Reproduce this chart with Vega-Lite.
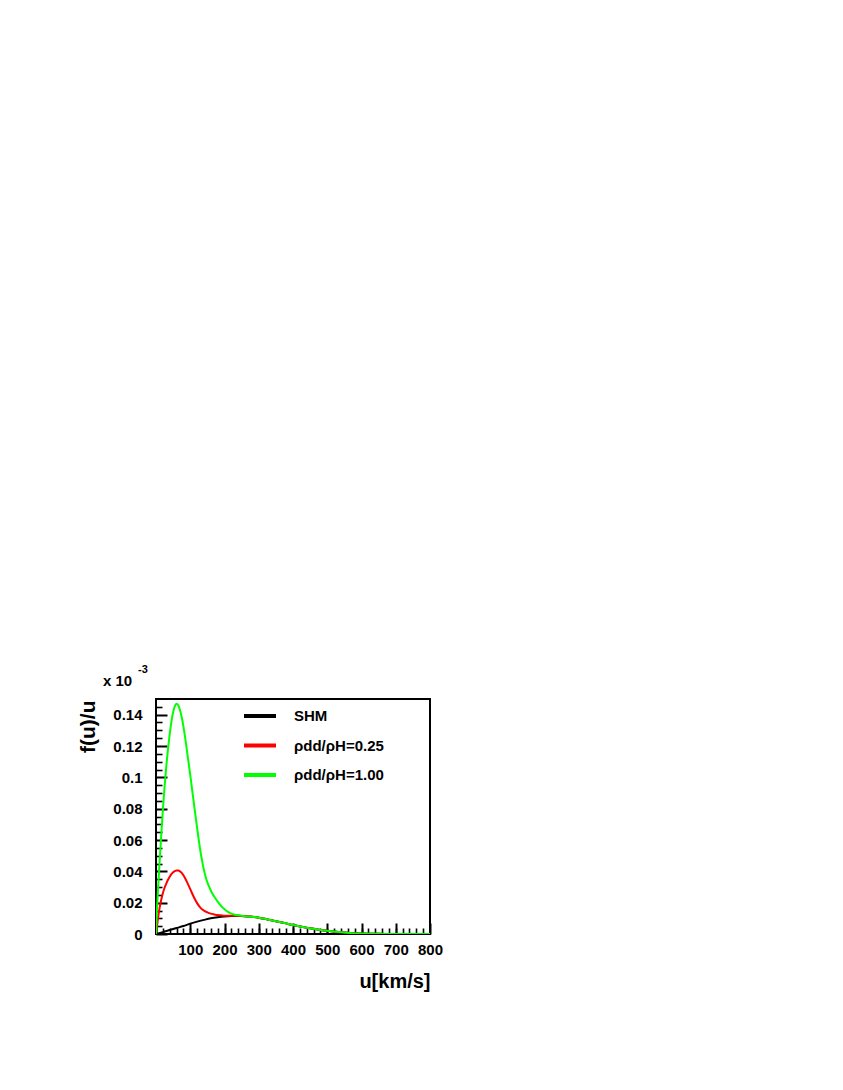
{
  "$schema": "https://vega.github.io/schema/vega-lite/v6.json",
  "autosize": {"type": "none"},
  "padding": {"left": 156, "top": 699, "right": 413, "bottom": 156},
  "width": 274,
  "height": 235,
  "background": "white",
  "config": {
    "font": "Liberation Sans",
    "view": {"stroke": "#000000", "strokeWidth": 2},
    "axis": {"grid": false, "domain": false, "labelFont": "Liberation Sans", "labelFontWeight": "bold", "labelFontSize": 15, "labelColor": "#000000", "tickColor": "#000000", "titleColor": "#000000", "titleFont": "Liberation Sans", "titleFontWeight": "bold"},
    "legend": {"orient": "none", "legendX": 86, "legendY": -1, "padding": 0, "title": null, "symbolType": "stroke", "symbolSize": 1024, "symbolStrokeWidth": 4, "labelFont": "Liberation Sans", "labelFontWeight": "bold", "labelFontSize": 15, "labelColor": "#000000", "labelOffset": 16, "rowPadding": 3.5}
  },
  "data": {"values": [
    {"series": "SHM", "u": 0, "v": 0},
    {"series": "SHM", "u": 20, "v": 0.0012},
    {"series": "SHM", "u": 40, "v": 0.0025},
    {"series": "SHM", "u": 60, "v": 0.0038},
    {"series": "SHM", "u": 80, "v": 0.0051},
    {"series": "SHM", "u": 100, "v": 0.0066},
    {"series": "SHM", "u": 120, "v": 0.0079},
    {"series": "SHM", "u": 140, "v": 0.009},
    {"series": "SHM", "u": 160, "v": 0.01},
    {"series": "SHM", "u": 180, "v": 0.0107},
    {"series": "SHM", "u": 200, "v": 0.0112},
    {"series": "SHM", "u": 220, "v": 0.0115},
    {"series": "SHM", "u": 240, "v": 0.0116},
    {"series": "SHM", "u": 260, "v": 0.0114},
    {"series": "SHM", "u": 280, "v": 0.011},
    {"series": "SHM", "u": 300, "v": 0.0104},
    {"series": "SHM", "u": 325, "v": 0.0093},
    {"series": "SHM", "u": 350, "v": 0.0082},
    {"series": "SHM", "u": 375, "v": 0.007},
    {"series": "SHM", "u": 400, "v": 0.0057},
    {"series": "SHM", "u": 425, "v": 0.0046},
    {"series": "SHM", "u": 450, "v": 0.0036},
    {"series": "SHM", "u": 475, "v": 0.0027},
    {"series": "SHM", "u": 500, "v": 0.002},
    {"series": "SHM", "u": 525, "v": 0.0014},
    {"series": "SHM", "u": 550, "v": 0.0009},
    {"series": "SHM", "u": 575, "v": 0.0005},
    {"series": "SHM", "u": 600, "v": 0.0003},
    {"series": "SHM", "u": 650, "v": 0.0001},
    {"series": "SHM", "u": 700, "v": 0},
    {"series": "SHM", "u": 750, "v": 0},
    {"series": "SHM", "u": 800, "v": 0},
    {"series": "ρdd/ρH=0.25", "u": 0, "v": 0},
    {"series": "ρdd/ρH=0.25", "u": 5, "v": 0.0085},
    {"series": "ρdd/ρH=0.25", "u": 10, "v": 0.016},
    {"series": "ρdd/ρH=0.25", "u": 15, "v": 0.0215},
    {"series": "ρdd/ρH=0.25", "u": 20, "v": 0.026},
    {"series": "ρdd/ρH=0.25", "u": 25, "v": 0.0295},
    {"series": "ρdd/ρH=0.25", "u": 30, "v": 0.0322},
    {"series": "ρdd/ρH=0.25", "u": 35, "v": 0.0346},
    {"series": "ρdd/ρH=0.25", "u": 40, "v": 0.0366},
    {"series": "ρdd/ρH=0.25", "u": 45, "v": 0.0382},
    {"series": "ρdd/ρH=0.25", "u": 50, "v": 0.0394},
    {"series": "ρdd/ρH=0.25", "u": 55, "v": 0.0402},
    {"series": "ρdd/ρH=0.25", "u": 60, "v": 0.0405},
    {"series": "ρdd/ρH=0.25", "u": 65, "v": 0.0405},
    {"series": "ρdd/ρH=0.25", "u": 70, "v": 0.04},
    {"series": "ρdd/ρH=0.25", "u": 75, "v": 0.039},
    {"series": "ρdd/ρH=0.25", "u": 80, "v": 0.0375},
    {"series": "ρdd/ρH=0.25", "u": 85, "v": 0.0356},
    {"series": "ρdd/ρH=0.25", "u": 90, "v": 0.0334},
    {"series": "ρdd/ρH=0.25", "u": 95, "v": 0.031},
    {"series": "ρdd/ρH=0.25", "u": 100, "v": 0.0286},
    {"series": "ρdd/ρH=0.25", "u": 110, "v": 0.0238},
    {"series": "ρdd/ρH=0.25", "u": 120, "v": 0.0197},
    {"series": "ρdd/ρH=0.25", "u": 130, "v": 0.0167},
    {"series": "ρdd/ρH=0.25", "u": 140, "v": 0.0149},
    {"series": "ρdd/ρH=0.25", "u": 150, "v": 0.0138},
    {"series": "ρdd/ρH=0.25", "u": 160, "v": 0.013},
    {"series": "ρdd/ρH=0.25", "u": 170, "v": 0.0125},
    {"series": "ρdd/ρH=0.25", "u": 180, "v": 0.0121},
    {"series": "ρdd/ρH=0.25", "u": 190, "v": 0.0119},
    {"series": "ρdd/ρH=0.25", "u": 200, "v": 0.0117},
    {"series": "ρdd/ρH=0.25", "u": 220, "v": 0.0116},
    {"series": "ρdd/ρH=0.25", "u": 240, "v": 0.0116},
    {"series": "ρdd/ρH=0.25", "u": 260, "v": 0.0114},
    {"series": "ρdd/ρH=0.25", "u": 280, "v": 0.011},
    {"series": "ρdd/ρH=0.25", "u": 300, "v": 0.0104},
    {"series": "ρdd/ρH=0.25", "u": 325, "v": 0.0093},
    {"series": "ρdd/ρH=0.25", "u": 350, "v": 0.0082},
    {"series": "ρdd/ρH=0.25", "u": 375, "v": 0.007},
    {"series": "ρdd/ρH=0.25", "u": 400, "v": 0.0057},
    {"series": "ρdd/ρH=0.25", "u": 425, "v": 0.0046},
    {"series": "ρdd/ρH=0.25", "u": 450, "v": 0.0036},
    {"series": "ρdd/ρH=0.25", "u": 475, "v": 0.0027},
    {"series": "ρdd/ρH=0.25", "u": 500, "v": 0.002},
    {"series": "ρdd/ρH=0.25", "u": 525, "v": 0.0014},
    {"series": "ρdd/ρH=0.25", "u": 550, "v": 0.0009},
    {"series": "ρdd/ρH=0.25", "u": 575, "v": 0.0005},
    {"series": "ρdd/ρH=0.25", "u": 600, "v": 0.0003},
    {"series": "ρdd/ρH=0.25", "u": 650, "v": 0.0001},
    {"series": "ρdd/ρH=0.25", "u": 700, "v": 0},
    {"series": "ρdd/ρH=0.25", "u": 750, "v": 0},
    {"series": "ρdd/ρH=0.25", "u": 800, "v": 0},
    {"series": "ρdd/ρH=1.00", "u": 0, "v": 0},
    {"series": "ρdd/ρH=1.00", "u": 2, "v": 0.012},
    {"series": "ρdd/ρH=1.00", "u": 5, "v": 0.025},
    {"series": "ρdd/ρH=1.00", "u": 10, "v": 0.044},
    {"series": "ρdd/ρH=1.00", "u": 15, "v": 0.062},
    {"series": "ρdd/ρH=1.00", "u": 20, "v": 0.079},
    {"series": "ρdd/ρH=1.00", "u": 25, "v": 0.094},
    {"series": "ρdd/ρH=1.00", "u": 30, "v": 0.107},
    {"series": "ρdd/ρH=1.00", "u": 35, "v": 0.118},
    {"series": "ρdd/ρH=1.00", "u": 40, "v": 0.1275},
    {"series": "ρdd/ρH=1.00", "u": 45, "v": 0.1355},
    {"series": "ρdd/ρH=1.00", "u": 50, "v": 0.1415},
    {"series": "ρdd/ρH=1.00", "u": 55, "v": 0.1455},
    {"series": "ρdd/ρH=1.00", "u": 60, "v": 0.147},
    {"series": "ρdd/ρH=1.00", "u": 65, "v": 0.146},
    {"series": "ρdd/ρH=1.00", "u": 70, "v": 0.143},
    {"series": "ρdd/ρH=1.00", "u": 75, "v": 0.1385},
    {"series": "ρdd/ρH=1.00", "u": 80, "v": 0.1325},
    {"series": "ρdd/ρH=1.00", "u": 85, "v": 0.1255},
    {"series": "ρdd/ρH=1.00", "u": 90, "v": 0.1175},
    {"series": "ρdd/ρH=1.00", "u": 95, "v": 0.1095},
    {"series": "ρdd/ρH=1.00", "u": 100, "v": 0.1015},
    {"series": "ρdd/ρH=1.00", "u": 105, "v": 0.093},
    {"series": "ρdd/ρH=1.00", "u": 110, "v": 0.0845},
    {"series": "ρdd/ρH=1.00", "u": 115, "v": 0.076},
    {"series": "ρdd/ρH=1.00", "u": 120, "v": 0.0677},
    {"series": "ρdd/ρH=1.00", "u": 125, "v": 0.0598},
    {"series": "ρdd/ρH=1.00", "u": 130, "v": 0.0525},
    {"series": "ρdd/ρH=1.00", "u": 135, "v": 0.0462},
    {"series": "ρdd/ρH=1.00", "u": 140, "v": 0.0408},
    {"series": "ρdd/ρH=1.00", "u": 145, "v": 0.0364},
    {"series": "ρdd/ρH=1.00", "u": 150, "v": 0.033},
    {"series": "ρdd/ρH=1.00", "u": 155, "v": 0.0302},
    {"series": "ρdd/ρH=1.00", "u": 160, "v": 0.0278},
    {"series": "ρdd/ρH=1.00", "u": 165, "v": 0.0257},
    {"series": "ρdd/ρH=1.00", "u": 170, "v": 0.0239},
    {"series": "ρdd/ρH=1.00", "u": 180, "v": 0.0207},
    {"series": "ρdd/ρH=1.00", "u": 190, "v": 0.018},
    {"series": "ρdd/ρH=1.00", "u": 200, "v": 0.0158},
    {"series": "ρdd/ρH=1.00", "u": 210, "v": 0.0141},
    {"series": "ρdd/ρH=1.00", "u": 220, "v": 0.013},
    {"series": "ρdd/ρH=1.00", "u": 230, "v": 0.0123},
    {"series": "ρdd/ρH=1.00", "u": 240, "v": 0.0119},
    {"series": "ρdd/ρH=1.00", "u": 260, "v": 0.0114},
    {"series": "ρdd/ρH=1.00", "u": 280, "v": 0.011},
    {"series": "ρdd/ρH=1.00", "u": 300, "v": 0.0104},
    {"series": "ρdd/ρH=1.00", "u": 325, "v": 0.0093},
    {"series": "ρdd/ρH=1.00", "u": 350, "v": 0.0082},
    {"series": "ρdd/ρH=1.00", "u": 375, "v": 0.007},
    {"series": "ρdd/ρH=1.00", "u": 400, "v": 0.0057},
    {"series": "ρdd/ρH=1.00", "u": 425, "v": 0.0046},
    {"series": "ρdd/ρH=1.00", "u": 450, "v": 0.0036},
    {"series": "ρdd/ρH=1.00", "u": 475, "v": 0.0027},
    {"series": "ρdd/ρH=1.00", "u": 500, "v": 0.002},
    {"series": "ρdd/ρH=1.00", "u": 525, "v": 0.0014},
    {"series": "ρdd/ρH=1.00", "u": 550, "v": 0.0009},
    {"series": "ρdd/ρH=1.00", "u": 575, "v": 0.0005},
    {"series": "ρdd/ρH=1.00", "u": 600, "v": 0.0003},
    {"series": "ρdd/ρH=1.00", "u": 650, "v": 0.0001},
    {"series": "ρdd/ρH=1.00", "u": 700, "v": 0},
    {"series": "ρdd/ρH=1.00", "u": 750, "v": 0},
    {"series": "ρdd/ρH=1.00", "u": 800, "v": 0}
  ]},
  "resolve": {"axis": {"x": "independent", "y": "independent"}},
  "layer": [
    {
      "transform": [{"filter": "datum.series === 'SHM'"}],
      "mark": {"type": "line", "strokeWidth": 2, "interpolate": "monotone", "clip": true},
      "encoding": {
        "x": {"field": "u", "type": "quantitative", "scale": {"domain": [0, 800], "nice": false},
          "axis": {"orient": "bottom", "values": [0, 100, 200, 300, 400, 500, 600, 700, 800], "labels": false, "ticks": true, "tickSize": -11, "tickWidth": 2, "title": null}},
        "y": {"field": "v", "type": "quantitative", "scale": {"domain": [0, 0.15], "nice": false, "zero": true},
          "axis": {"orient": "left", "values": [0, 0.02, 0.04, 0.06, 0.08, 0.1, 0.12, 0.14], "labels": false, "ticks": true, "tickSize": -11, "tickWidth": 2, "title": null}},
        "color": {"field": "series", "type": "nominal", "sort": null,
          "scale": {"domain": ["SHM", "ρdd/ρH=0.25", "ρdd/ρH=1.00"], "range": ["#000000", "#ff0000", "#00ff00"]}}
      }
    },
    {
      "transform": [{"filter": "datum.series === 'ρdd/ρH=0.25'"}],
      "mark": {"type": "line", "strokeWidth": 2, "interpolate": "monotone", "clip": true},
      "encoding": {
        "x": {"field": "u", "type": "quantitative",
          "axis": {"orient": "bottom", "values": [0, 20, 40, 60, 80, 100, 120, 140, 160, 180, 200, 220, 240, 260, 280, 300, 320, 340, 360, 380, 400, 420, 440, 460, 480, 500, 520, 540, 560, 580, 600, 620, 640, 660, 680, 700, 720, 740, 760, 780], "labels": false, "ticks": true, "tickSize": -6, "tickWidth": 1.6, "title": null}},
        "y": {"field": "v", "type": "quantitative",
          "axis": {"orient": "left", "values": [0.005, 0.01, 0.015, 0.025, 0.03, 0.035, 0.045, 0.05, 0.055, 0.065, 0.07, 0.075, 0.085, 0.09, 0.095, 0.105, 0.11, 0.115, 0.125, 0.13, 0.135, 0.145], "labels": false, "ticks": true, "tickSize": -6, "tickWidth": 1.6, "title": null}},
        "color": {"field": "series", "type": "nominal", "sort": null}
      }
    },
    {
      "transform": [{"filter": "datum.series === 'ρdd/ρH=1.00'"}],
      "mark": {"type": "line", "strokeWidth": 2, "interpolate": "monotone", "clip": true},
      "encoding": {
        "x": {"field": "u", "type": "quantitative",
          "axis": {"orient": "bottom", "values": [100, 200, 300, 400, 500, 600, 700, 800], "ticks": false, "labelPadding": 8, "labelFlush": false,
            "title": "u[km/s]", "titleFontSize": 20, "titleAlign": "right", "titleAnchor": "end", "titleX": 274, "titleY": 53, "titleBaseline": "alphabetic"}},
        "y": {"field": "v", "type": "quantitative",
          "axis": {"orient": "left", "values": [0, 0.02, 0.04, 0.06, 0.08, 0.1, 0.12, 0.14], "ticks": false, "labelPadding": 14, "labelFlush": false, "labelExpr": "datum.value === 0 ? '0' : format(datum.value, '.2~f')",
            "title": "f(u)/u", "titleFontSize": 21, "titleAngle": -90, "titleAlign": "right", "titleAnchor": "end", "titleX": -62, "titleY": 1, "titleBaseline": "alphabetic"}},
        "color": {"field": "series", "type": "nominal", "sort": null}
      }
    },
    {
      "data": {"values": [{"note": "x 10"}]},
      "mark": {"type": "text", "align": "left", "baseline": "alphabetic", "dx": -53, "dy": -13, "fontSize": 15, "fontWeight": "bold", "font": "Liberation Sans", "color": "#000000"},
      "encoding": {
        "x": {"datum": 0, "type": "quantitative", "axis": null},
        "y": {"datum": 0.15, "type": "quantitative", "axis": null},
        "text": {"field": "note", "type": "nominal"}
      }
    },
    {
      "data": {"values": [{"note": "-3"}]},
      "mark": {"type": "text", "align": "left", "baseline": "alphabetic", "dx": -18, "dy": -26, "fontSize": 11, "fontWeight": "bold", "font": "Liberation Sans", "color": "#000000"},
      "encoding": {
        "x": {"datum": 0, "type": "quantitative", "axis": null},
        "y": {"datum": 0.15, "type": "quantitative", "axis": null},
        "text": {"field": "note", "type": "nominal"}
      }
    }
  ]
}
